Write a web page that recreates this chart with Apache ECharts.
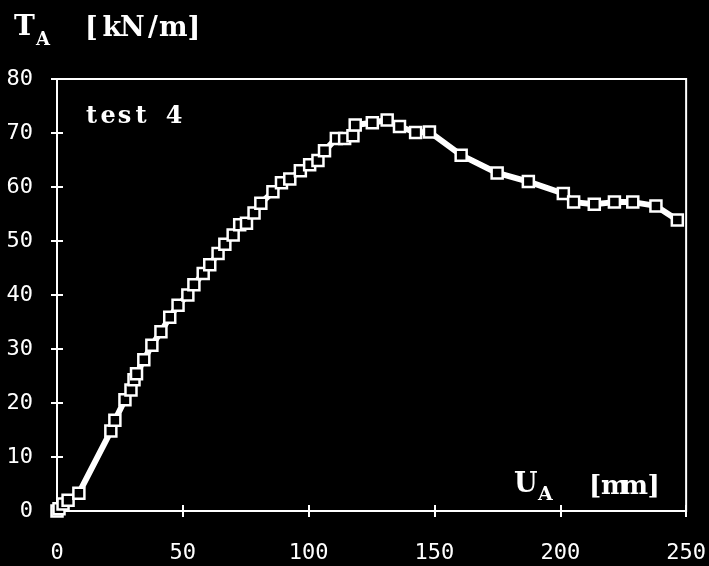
<!DOCTYPE html>
<html><head><meta charset="utf-8">
<script src="https://cdn.jsdelivr.net/npm/echarts@6/dist/echarts.min.js"></script>
<style>html,body{margin:0;padding:0;background:#000}#c{width:709px;height:566px}</style>
</head><body><div id="c"></div>
<script>
// Displacement U_A [mm]
const uA = [0,0.8,2.4,4.4,8.7,21.4,23.0,27.0,29.4,30.6,31.6,34.5,37.7,41.3,44.8,48.1,52.0,54.4,58.1,60.7,64.0,66.7,70.0,72.6,75.3,78.3,81.0,85.8,89.2,92.5,96.7,100.4,103.7,106.3,111.0,114.3,117.6,118.5,125.3,131.2,136.1,142.5,148.0,160.6,174.9,187.3,201.2,205.3,213.5,221.5,228.8,238.0,246.5];
// Force T_A [kN/m]
const tA = [0,0.4,1.3,2.0,3.3,14.8,16.8,20.6,22.4,24.3,25.4,28.0,30.7,33.2,35.9,38.1,40.0,41.9,44.0,45.6,47.7,49.4,51.1,53.0,53.3,55.2,57.0,59.1,60.8,61.5,63.0,64.1,64.9,66.7,69.0,69.0,69.5,71.5,71.9,72.4,71.2,70.1,70.2,65.9,62.6,61.0,58.8,57.2,56.8,57.2,57.2,56.5,53.9];
const xRange = [0, 250, 50];
const yRange = [0, 80, 10];
const yLabel = ['T', 'A', '[kN/m]'];
const xLabel = ['U', 'A', '[mm]'];
const note = 'test 4';

const W = '#fff';
const tickFont = 'DejaVu Sans Mono';
const serif = '"DejaVu Serif"';
function mono(str, size, adv) {
  return {
    text: str.split('').map(ch => '{c|' + ch + '}').join(''),
    rich: {c: {width: adv, align: 'center', fontFamily: serif, fontWeight: 'bold', fontSize: size, fill: W, color: W}},
    fill: W
  };
}
function axisPair(range, isX) {
  const base = {type:'value', min:range[0], max:range[1], interval:range[2], splitLine:{show:false}};
  const main = Object.assign({}, base, {
    axisLine:{show:true, onZero:false, lineStyle:{color:W, width:2}},
    axisTick:{show:true, length:6, lineStyle:{color:W, width:2}},
    axisLabel:{show:true, color:W, fontFamily:tickFont, fontSize:22, margin: isX ? 31 : 24}
  });
  const inner = Object.assign({}, base, {
    position: isX ? 'bottom' : 'left',
    axisLine:{show:false},
    axisTick:{show:true, inside:true, length:6, lineStyle:{color:W, width:2}},
    axisLabel:{show:false}
  });
  return [main, inner];
}
const chart = echarts.init(document.getElementById('c'), null, {renderer:'canvas'});
chart.setOption({
  backgroundColor:'#000',
  animation:false,
  grid:{left:57, right:22, top:79, bottom:55, show:true, borderColor:W, borderWidth:2, backgroundColor:'transparent', containLabel:false},
  xAxis: axisPair(xRange, true),
  yAxis: axisPair(yRange, false),
  series:[{
    type:'line',
    data: uA.map((u,i)=>[u, tA[i]]),
    symbol:'rect', symbolSize:11, showSymbol:true, clip:false,
    lineStyle:{color:W, width:6},
    itemStyle:{color:'#000', borderColor:W, borderWidth:2.5}
  }],
  graphic:[
    {type:'text', left:14, top:14, style:mono(yLabel[0], 28, 24)},
    {type:'text', left:36, top:31, style:mono(yLabel[1], 18, 17)},
    {type:'text', left:85, top:15, style:mono(yLabel[2], 27, 20.5)},
    {type:'text', left:86, top:105, style:mono(note, 24, 16.5)},
    {type:'text', left:514, top:471, style:mono(xLabel[0], 27, 24)},
    {type:'text', left:538, top:486, style:mono(xLabel[1], 19, 24)},
    {type:'text', left:589, top:474, style:mono(xLabel[2], 26, 19.5)}
  ]
});
</script></body></html>
